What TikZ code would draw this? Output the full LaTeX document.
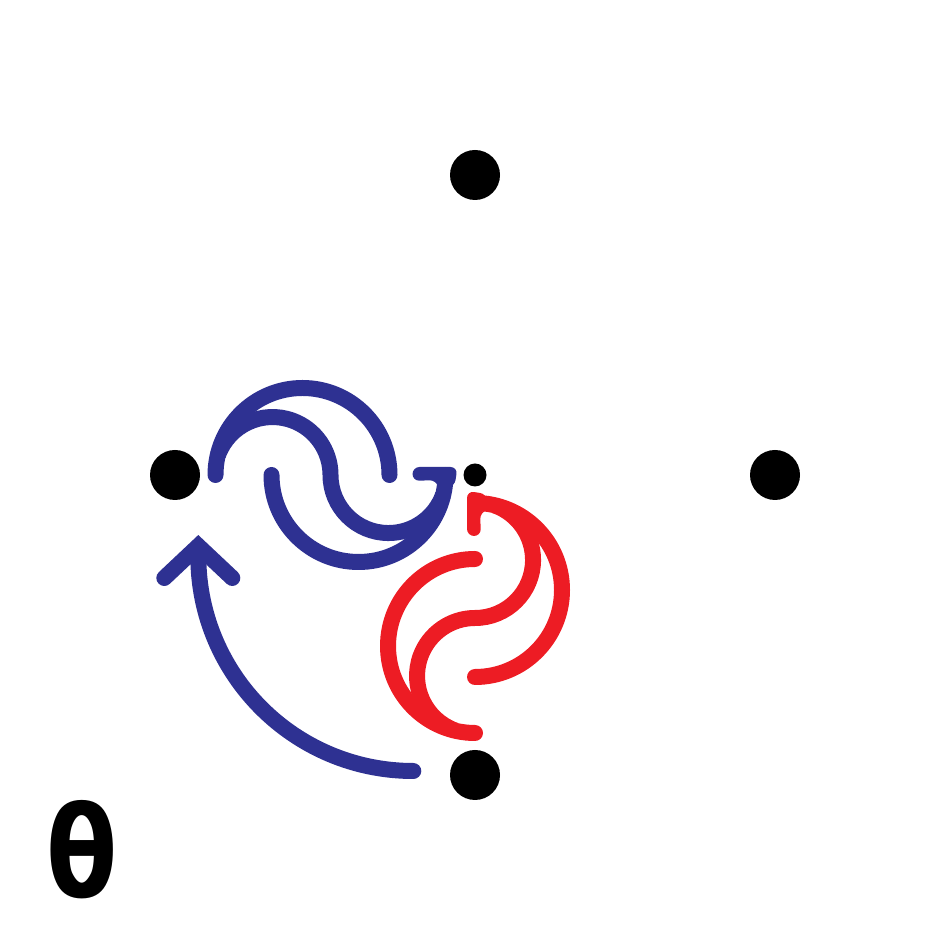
\documentclass[tikz,border=0pt]{standalone}
\usepackage{fontspec}
\newfontfamily\thfont{DejaVu Sans}
\usetikzlibrary{positioning}
\definecolor{swblue}{HTML}{2E3192}
\definecolor{swred}{HTML}{ED1C24}
\tikzset{
  dot/.style={circle, fill=black, inner sep=0pt, minimum size=5mm},
  swirl/.style={line width=1.6mm, line cap=round},
}
% one swirl, drawn round its own middle
\newcommand{\swirlshape}[1]{%
  \draw[swirl, #1] (0.59,0) arc[start angle=0, end angle=180, radius=0.87];
  \draw[swirl, #1] (-0.59,0) arc[start angle=180, end angle=360, radius=0.87];
  % S between the two arcs
  \draw[swirl, #1, line cap=butt] (-1.125,0.198) arc[start angle=160, end angle=0, radius=0.58]
      arc[start angle=180, end angle=340, radius=0.58];
  % barb
  \fill[#1, rounded corners=2pt] (1.08,-0.12) -- (1.24,-0.12) -- (1.27,0.08) -- (0.82,0.08)
      -- (0.82,-0.06) -- (1.06,-0.05) -- cycle;
}
\begin{document}
\begin{tikzpicture}
\useasboundingbox (0,0) rectangle (9.5,9.5);
% Dots
\node[dot] (top) at (4.75,7.75) {};
\node[dot] (left) at (1.75,4.75) {};
\node[dot] (right) at (7.75,4.75) {};
\node[dot] (bottom) at (4.75,1.75) {};
\node[dot, minimum size=2.3mm] (centre) at (4.75,4.75) {};

% Swirls
\begin{scope}[shift={(3.305,4.75)}]
  \swirlshape{swblue}
\end{scope}
\begin{scope}[shift={(4.75,3.32)}, rotate=90]
  \swirlshape{swred}
\end{scope}

% Curved arrow
\coordinate[left=0.36cm of bottom, yshift=0.04cm] (tail);
\draw[swirl, swblue] (tail) arc[start angle=270, end angle=180, radius=2.15] coordinate (head);
\draw[swirl, swblue, line join=miter] ([shift={(-0.34,-0.22)}]head) -- ([yshift=1mm]head)
    -- ([shift={(0.34,-0.22)}]head);

\node[font=\thfont\bfseries\fontsize{36}{36}\selectfont, inner sep=0pt] (theta) at (0.825,1.0) {\scalebox{0.82}[1]{θ}};
\end{tikzpicture}
\end{document}
